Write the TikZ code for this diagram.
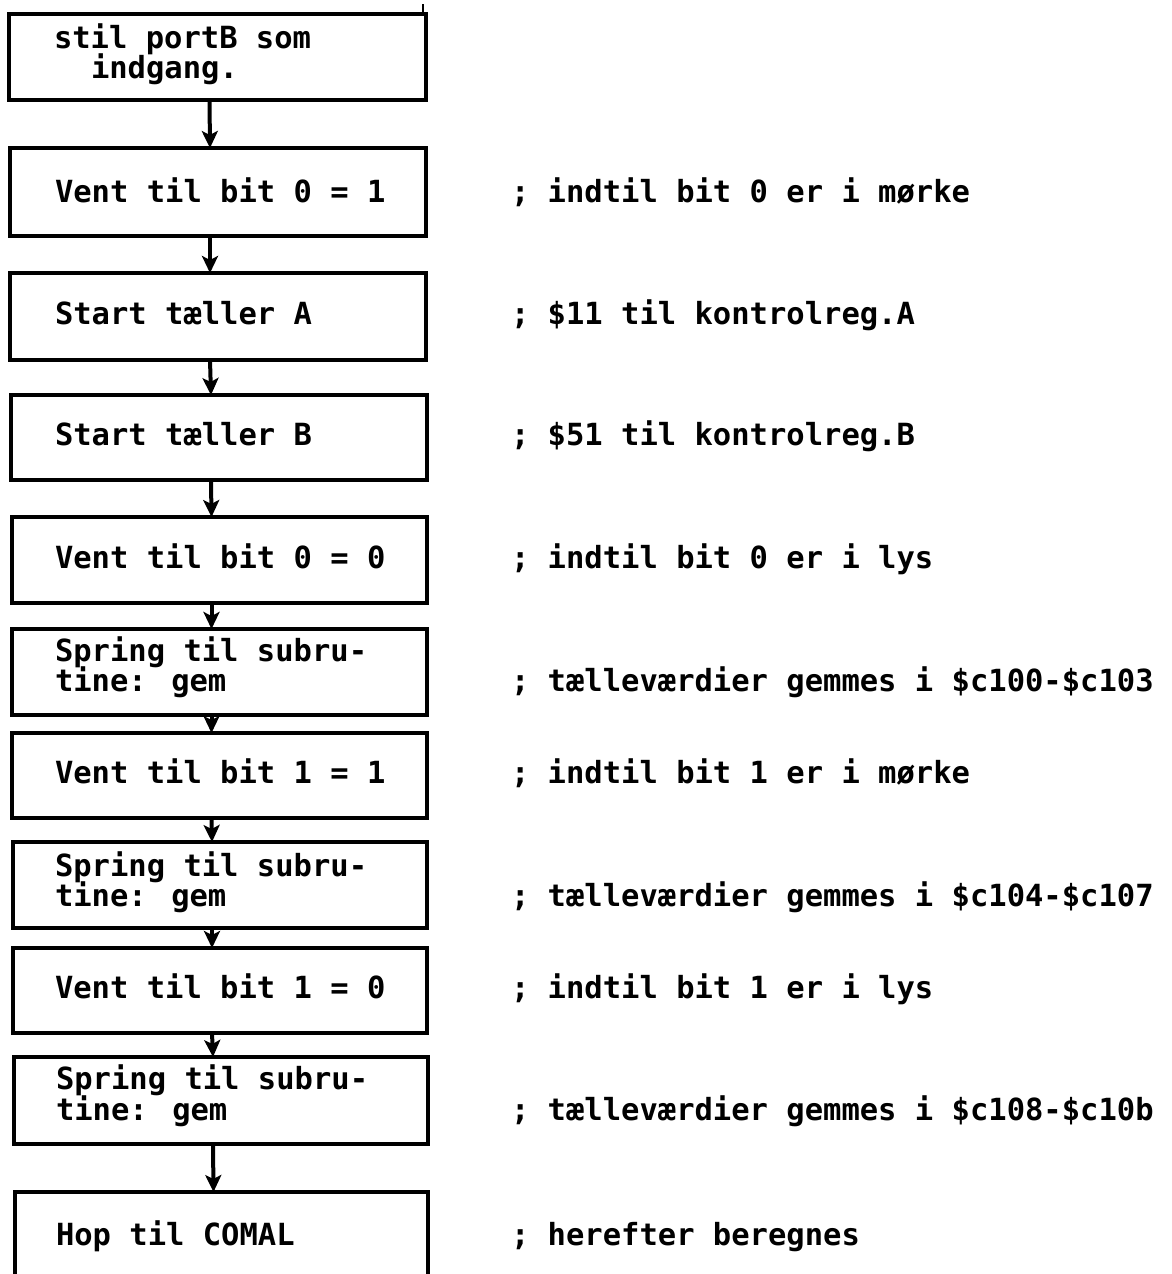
\documentclass[tikz,border=0pt]{standalone}
\usepackage{fontspec}
\newfontfamily\ddmono{DejaVu Sans Mono}
\usetikzlibrary{arrows.meta,fit}
\begin{document}
\begin{tikzpicture}[x=1pt,y=-1pt,
  stepbox/.style={draw, line width=3.5pt, inner sep=0pt, outer sep=0pt, rectangle},
  txt/.style={anchor=base west, inner sep=0pt, outer sep=0pt, font=\ddmono\bfseries\fontsize{30.5}{29}\selectfont},
  arr/.style={line width=4pt, -{Stealth[length=17pt,width=16pt,inset=4pt]}}]
\useasboundingbox[fill=white] (0,0) rectangle (1171,1274);
\clip (0,0) rectangle (1171,1274);
% boxes
\node[stepbox, fit={(9,14) (426,100)}] (b1) {};
\node[stepbox, fit={(10,148) (426,236)}] (b2) {};
\node[stepbox, fit={(10,273) (426,360)}] (b3) {};
\node[stepbox, fit={(11,395) (427,480)}] (b4) {};
\node[stepbox, fit={(12,517) (427,603)}] (b5) {};
\node[stepbox, fit={(12,629) (427,715)}] (b6) {};
\node[stepbox, fit={(12,733) (427,818)}] (b7) {};
\node[stepbox, fit={(13,842) (427,928)}] (b8) {};
\node[stepbox, fit={(13,948) (427,1033)}] (b9) {};
\node[stepbox, fit={(14,1057) (428,1144)}] (b10) {};
\node[stepbox, fit={(15,1192) (428,1300)}] (b11) {};
% small tick above first box
\draw[line width=2.5pt] ([xshift=-3pt]b1.north east) -- ++(0,-10);
% connectors
\foreach \a/\b in {b1/b2,b2/b3,b3/b4,b4/b5,b5/b6,b6/b7,b7/b8,b8/b9,b9/b10,b10/b11}
  \draw[arr] ([xshift=-8pt]\a.south) -- ([xshift=-8pt]\b.north);
% box texts
\node[txt] (t1a) at (54,48) {stil portB som};
\node[txt] (t1b) at (91,78) {indgang.};
\node[txt] (t2) at (55,202) {Vent til bit 0 = 1};
\node[txt] (t3) at (55,324) {Start tæller A};
\node[txt] (t4) at (55,445) {Start tæller B};
\node[txt] (t5) at (55,568) {Vent til bit 0 = 0};
\node[txt] (t6a) at (55,661) {Spring til subru-};
\node[txt] (t6b) at (55,691) {tine:  gem};
\node[txt] (t7) at (55,783) {Vent til bit 1 = 1};
\node[txt] (t8a) at (55,876) {Spring til subru-};
\node[txt] (t8b) at (55,906) {tine:  gem};
\node[txt] (t9) at (55,998) {Vent til bit 1 = 0};
\node[txt] (t10a) at (56,1089) {Spring til subru-};
\node[txt] (t10b) at (56,1120) {tine:  gem};
\node[txt] (t11) at (56,1245) {Hop til COMAL};
% comments
\node[txt] (c2) at (511,202) {; indtil bit 0 er i mørke};
\node[txt] (c3) at (511,324) {; \$11 til kontrolreg.A};
\node[txt] (c4) at (511,445) {; \$51 til kontrolreg.B};
\node[txt] (c5) at (511,568) {; indtil bit 0 er i lys};
\node[txt] (c6) at (511,691) {; tælleværdier gemmes i \$c100-\$c103};
\node[txt] (c7) at (511,783) {; indtil bit 1 er i mørke};
\node[txt] (c8) at (511,906) {; tælleværdier gemmes i \$c104-\$c107};
\node[txt] (c9) at (511,998) {; indtil bit 1 er i lys};
\node[txt] (c10) at (511,1120) {; tælleværdier gemmes i \$c108-\$c10b};
\node[txt] (c11) at (511,1245) {; herefter beregnes};
\end{tikzpicture}
\end{document}
